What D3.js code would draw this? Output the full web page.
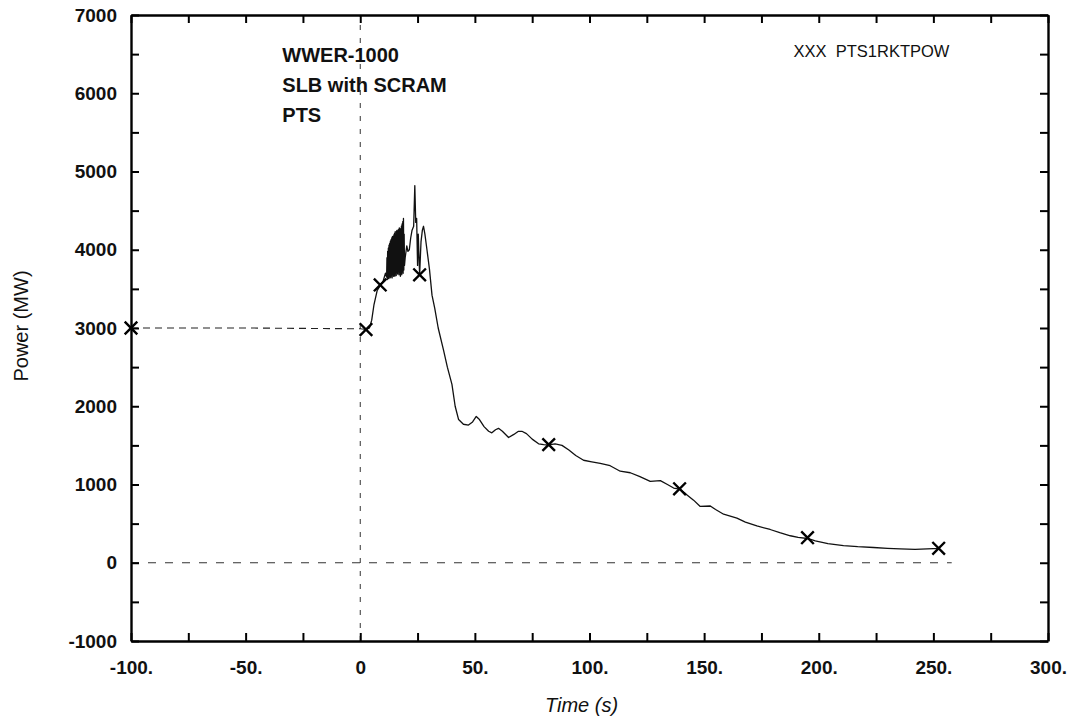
<!DOCTYPE html>
<html>
<head>
<meta charset="utf-8">
<script src="https://cdn.jsdelivr.net/npm/d3@7"></script>
<style>
  body { margin: 0; background: #fff; }
  svg { display: block; }
  text { font-family: "Liberation Sans", Arial, Helvetica, sans-serif; fill: #111; }
</style>
</head>
<body>
<svg id="chart-area"></svg>
<script>
// time (s) and reactor power (MW)
const timeValues = [
  -100, -50, 0, 2.5, 4, 5, 6, 7.4, 8.7, 10, 11,
  11.5, 11.65, 11.8, 11.95, 12.1, 12.25, 12.4, 12.55, 12.7, 12.85,
  13.0, 13.15, 13.3, 13.45, 13.6, 13.75, 13.9, 14.05, 14.2, 14.35,
  14.5, 14.65, 14.8, 14.95, 15.1, 15.25, 15.4, 15.55, 15.7, 15.85,
  16.0, 16.15, 16.3, 16.45, 16.6, 16.75, 16.9, 17.05, 17.2, 17.35,
  17.5, 17.65, 17.8, 17.95, 18.1, 18.25, 18.4, 18.55, 18.7, 18.85,
  19.0, 19.15, 19.3, 19.6,
  20.3, 20.8, 21.4, 22.0, 22.6, 23.3, 23.8, 24.2, 24.6, 25.0, 25.3, 25.9, 26.5, 27.1,
  27.6, 28.2, 29.1, 30.2, 31.3, 32.5, 34, 36.3, 38, 40, 41.4, 42.9, 45, 47.2, 49,
  50.6, 52, 54, 56, 57.4, 59, 60.3, 62, 64.7, 67, 69, 70.5, 72.5, 75, 77.8, 80,
  82.2, 85, 88, 91, 94, 97.4, 101, 104.7, 109, 113.4, 117.8, 122, 126.5, 130.9,
  134, 136.7, 139.3, 142, 145.4, 148.3, 152.7, 155, 158.5, 164.3, 168, 173, 178.8,
  183, 187.6, 191, 195.1, 198.5, 204, 210.8, 217, 223.9, 230, 235.5, 242, 250, 252.3
]
const powerValues = [
  3000, 3000, 2990, 2980, 3000, 3100, 3300, 3480, 3540, 3600, 3700,
  3650, 3900, 3620, 3980, 3640, 4020, 3630, 4060, 3660, 4080,
  3640, 4110, 3650, 4130, 3680, 4150, 3640, 4170, 3690, 4160,
  3660, 4190, 3680, 4210, 3660, 4230, 3700, 4190, 3670, 4240,
  3710, 4250, 3690, 4230, 3720, 4260, 3680, 4280, 3710, 4250,
  3660, 4270, 3700, 4300, 3680, 4330, 3720, 4360, 3700, 4400,
  3740, 4200, 3800, 3900,
  4050, 3980, 4000, 4150, 4250, 4300, 4820, 4350, 4400, 3800, 4200, 3680, 4100, 4250,
  4300, 4200, 4000, 3750, 3420, 3250, 3000, 2720, 2500, 2280, 2000, 1830, 1770, 1760, 1800,
  1870, 1830, 1740, 1680, 1660, 1700, 1718, 1680, 1600, 1640, 1680, 1680, 1650, 1580, 1520, 1510,
  1505, 1520, 1500, 1440, 1370, 1310, 1290, 1270, 1240, 1170, 1150, 1100, 1040, 1050,
  1000, 955, 940, 880, 800, 720, 725, 680, 620, 570, 520, 470, 425,
  385, 345, 325, 310, 280, 245, 220, 205, 195, 185, 178, 172, 180, 180
]
// "X" markers of series PTS1RKTPOW
const markerTimes = [-100, 2.5, 8.7, 25.9, 82.2, 139.3, 195.1, 252.3]
const markerPowers = [3000, 2980, 3550, 3680, 1510, 945, 320, 185]

const xTicks = d3.range(-100, 301, 25)
const yTicks = d3.range(-1000, 7001, 500)
const infoLines = ["WWER-1000", "SLB with SCRAM", "PTS"]
const legendLabel = "XXX  PTS1RKTPOW"

const dataset = timeValues.map((t, i) => ({ t: t, p: powerValues[i] }))
const markers = markerTimes.map((t, i) => ({ t: t, p: markerPowers[i] }))

const margin = { left: 131, right: 30, top: 15, bottom: 84 }
const svgWidth = 1078
const svgHeight = 725
const chartWidth = svgWidth - margin.left - margin.right
const chartHeight = svgHeight - margin.top - margin.bottom

const svg = d3.select("#chart-area")
  .attr("width", svgWidth)
  .attr("height", svgHeight)

const chart = svg.append("g")
  .attr("transform", `translate(${margin.left},${margin.top})`)

const xScale = d3.scaleLinear().domain([-100, 300]).range([0, chartWidth])
const yScale = d3.scaleLinear().domain([-1000, 7000]).range([chartHeight, 0])

const xFormat = d => d % 50 !== 0 ? "" : (d === 0 ? "0" : d + ".")
const yFormat = d => d % 1000 !== 0 ? "" : d

// reference lines at t = 0 and P = 0
chart.append("line")
  .attr("x1", xScale(0)).attr("x2", xScale(0))
  .attr("y1", yScale(-1000)).attr("y2", yScale(7000))
  .attr("stroke", "#333").attr("stroke-width", 1)
  .attr("stroke-dasharray", "5,8")

chart.append("line")
  .attr("x1", xScale(-100)).attr("x2", xScale(258))
  .attr("y1", yScale(0)).attr("y2", yScale(0))
  .attr("stroke", "#333").attr("stroke-width", 1.2)
  .attr("stroke-dasharray", "8,9")

const line = d3.line()
  .x(d => xScale(d.t))
  .y(d => yScale(d.p))

// steady state part looks broken up in the original print
chart.append("path")
  .datum(dataset.filter(d => d.t <= 2.5))
  .attr("d", line)
  .attr("fill", "none")
  .attr("stroke", "#222")
  .attr("stroke-width", 1.1)
  .attr("stroke-dasharray", "7,5")

chart.append("path")
  .datum(dataset.filter(d => d.t >= 2.5))
  .attr("d", line)
  .attr("fill", "none")
  .attr("stroke", "#111")
  .attr("stroke-width", 1.3)
  .attr("stroke-linejoin", "round")

chart.selectAll(".marker")
  .data(markers)
  .enter().append("path")
  .attr("class", "marker")
  .attr("transform", d => `translate(${xScale(d.t)},${yScale(d.p)})`)
  .attr("d", d3.symbol().type(d3.symbolTimes).size(105))
  .attr("fill", "none")
  .attr("stroke", "#000")
  .attr("stroke-width", 2.4)

// axes, ticks pointing inward
const styleAxis = g => {
  g.select(".domain").attr("stroke", "#000").attr("stroke-width", 2.4)
  g.selectAll(".tick line").attr("stroke", "#000").attr("stroke-width", 2)
  g.selectAll(".tick text")
    .attr("fill", "#111")
    .style("font-size", "19px")
    .style("font-weight", "bold")
    .style("font-family", "'Liberation Sans', Arial, sans-serif")
}

chart.append("g")
  .attr("transform", `translate(0,${chartHeight})`)
  .call(d3.axisBottom(xScale).tickValues(xTicks).tickFormat(xFormat)
    .tickSizeInner(-8).tickSizeOuter(0).tickPadding(20))
  .call(styleAxis)

chart.append("g")
  .call(d3.axisTop(xScale).tickValues(xTicks).tickFormat("")
    .tickSizeInner(-8).tickSizeOuter(0))
  .call(styleAxis)

chart.append("g")
  .call(d3.axisLeft(yScale).tickValues(yTicks).tickFormat(yFormat)
    .tickSizeInner(-8).tickSizeOuter(0).tickPadding(14))
  .call(styleAxis)

chart.append("g")
  .attr("transform", `translate(${chartWidth},0)`)
  .call(d3.axisRight(yScale).tickValues(yTicks).tickFormat("")
    .tickSizeInner(-8).tickSizeOuter(0))
  .call(styleAxis)

// axis titles
svg.append("text")
  .attr("x", margin.left + chartWidth / 2 - 8)
  .attr("y", 712)
  .attr("text-anchor", "middle")
  .style("font-size", "20px")
  .style("font-style", "italic")
  .text("Time (s)")

svg.append("text")
  .attr("transform", `translate(28,${margin.top + yScale(3000) - 2}) rotate(-90)`)
  .attr("text-anchor", "middle")
  .style("font-size", "20px")
  .text("Power (MW)")

// case description
chart.append("g")
  .selectAll("text")
  .data(infoLines)
  .enter().append("text")
  .attr("x", xScale(-34))
  .attr("y", (d, i) => 47 + i * 30)
  .style("font-size", "20px")
  .style("font-weight", "bold")
  .text(d => d)

chart.append("text")
  .attr("x", xScale(189))
  .attr("y", 42)
  .style("font-size", "16.5px")
  .attr("xml:space", "preserve")
  .text(legendLabel)
</script>
</body>
</html>
